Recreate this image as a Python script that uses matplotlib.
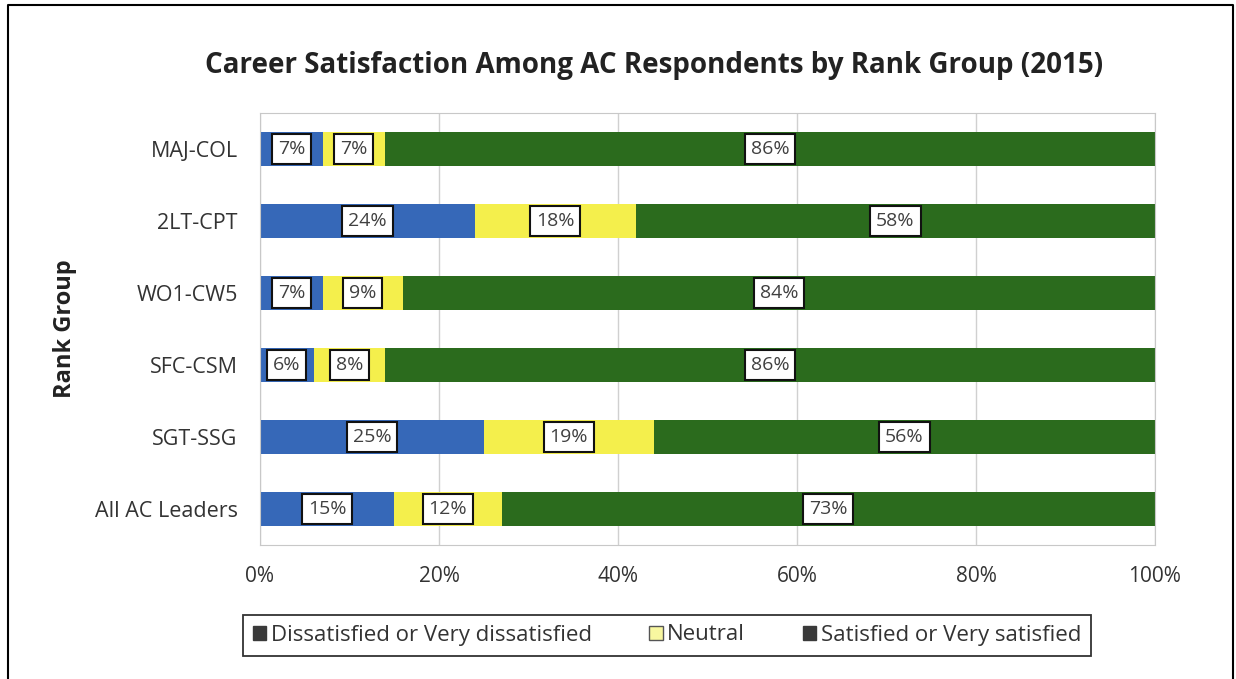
import matplotlib.pyplot as plt
import matplotlib.patches as mpatches
import matplotlib.lines as mlines
import numpy as np

plt.rcParams['font.family'] = ['Open Sans', 'DejaVu Sans']

# data (bottom to top)
groups = ['All AC Leaders', 'SGT-SSG', 'SFC-CSM', 'WO1-CW5', '2LT-CPT', 'MAJ-COL']
dissatisfied = [15, 25, 6, 7, 24, 7]
neutral = [12, 19, 8, 9, 18, 7]
satisfied = [73, 56, 86, 84, 58, 86]

series = ['Dissatisfied or Very dissatisfied', 'Neutral', 'Satisfied or Very satisfied']
colors = ['#3668b8', '#f4ef4c', '#2b6b1d']

fig = plt.figure(figsize=(12.36, 6.79), dpi=100)
ax = fig.add_axes([260/1236, 1-545/679, (1155-260)/1236, (545-113)/679])

y = np.arange(len(groups))
left = np.zeros(len(groups))
for vals, col in zip([dissatisfied, neutral, satisfied], colors):
    vals = np.array(vals, dtype=float)
    ax.barh(y, vals, left=left, height=0.46, color=col, zorder=2)
    for yi, l, v in zip(y, left, vals):
        ax.text(l + v / 2, yi, f'{int(v)}%', ha='center', va='center',
                fontsize=14, color='#404040', zorder=3,
                bbox=dict(boxstyle='square,pad=0.3', fc='white', ec='#111111', lw=1.5))
    left += vals

ax.set_xlim(0, 100)
ax.set_ylim(-0.5, len(groups) - 0.5)
ax.set_xticks(np.arange(0, 101, 20))
ax.set_xticklabels([f'{t}%' for t in range(0, 101, 20)], fontsize=15, color='#333333')
ax.set_yticks(y)
ax.set_yticklabels(groups, fontsize=15.5, color='#333333')
ax.tick_params(length=0)
ax.tick_params(axis='y', pad=16)
ax.tick_params(axis='x', pad=15)
ax.xaxis.grid(True, color='#d0d0d0', lw=1, zorder=0)
for s in ax.spines.values():
    s.set_color('#c8c8c8')

fig.text(65/1236, 1 - 329/679, 'Rank Group', rotation=90, ha='center', va='center',
         fontsize=17, fontweight='bold', color='#222222')

fig.text(654/1236, 1 - 65/679, 'Career Satisfaction Among AC Respondents by Rank Group (2015)',
         ha='center', va='center', fontsize=20, fontweight='bold', color='#222222')

handles = [
    mpatches.Patch(facecolor='#3a3a3a', edgecolor='#3a3a3a'),
    mpatches.Patch(facecolor='#f8f7a0', edgecolor='#555555'),
    mpatches.Patch(facecolor='#3a3a3a', edgecolor='#3a3a3a'),
]
leg = fig.legend(handles, series, loc='center', bbox_to_anchor=(667/1236, 1 - 635/679),
                 ncol=3, fontsize=16, frameon=True, fancybox=False, edgecolor='black',
                 handlelength=0.6, handleheight=0.6, handletextpad=0.2, columnspacing=2.6,
                 borderpad=0.45)
leg.get_frame().set_linewidth(1.3)
for t in leg.get_texts():
    t.set_color('#333333')

# outer frame (left, top, right)
x0, x1, yt = 8/1236, 1233/1236, 1 - 5/679
fig.add_artist(mlines.Line2D([x0, x0, x1, x1], [0, yt, yt, 0], color='black', lw=1.5,
                             transform=fig.transFigure))

fig.savefig('out.png', dpi=100)
